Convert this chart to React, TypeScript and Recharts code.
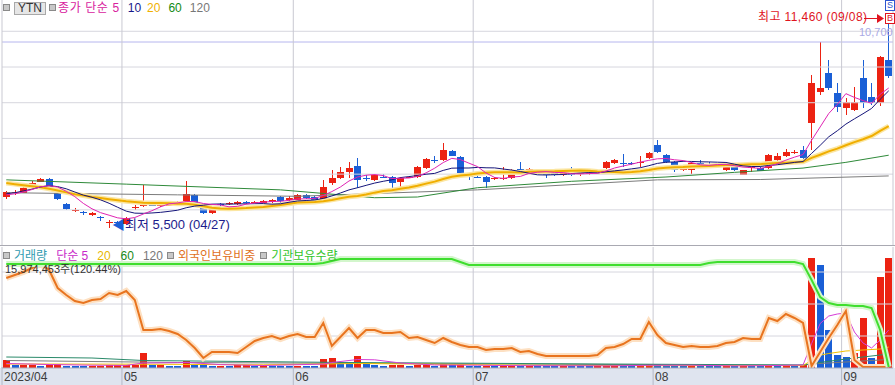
import React from "react";
import { ComposedChart, Bar, Line, XAxis, YAxis, ReferenceLine } from "recharts";

// trading days, 2023/04/11 .. 2023/09/08
const dates = [
  "04/11", "04/12", "04/13", "04/14", "04/17", "04/18", "04/19", "04/20", "04/21", "04/24", "04/25", "04/26", "04/27", "04/28",
  "05/02", "05/03", "05/04", "05/08", "05/09", "05/10", "05/11", "05/12", "05/15", "05/16", "05/17", "05/18", "05/19", "05/22", "05/23", "05/24", "05/25", "05/26", "05/30", "05/31",
  "06/01", "06/02", "06/05", "06/07", "06/08", "06/09", "06/12", "06/13", "06/14", "06/15", "06/16", "06/19", "06/20", "06/21", "06/22", "06/23", "06/26", "06/27", "06/28", "06/29", "06/30",
  "07/03", "07/04", "07/05", "07/06", "07/07", "07/10", "07/11", "07/12", "07/13", "07/14", "07/17", "07/18", "07/19", "07/20", "07/21", "07/24", "07/25", "07/26", "07/27", "07/28", "07/31",
  "08/01", "08/02", "08/03", "08/04", "08/07", "08/08", "08/09", "08/10", "08/11", "08/14", "08/16", "08/17", "08/18", "08/21", "08/22", "08/23", "08/24", "08/25", "08/28", "08/29", "08/30", "08/31",
  "09/01", "09/04", "09/05", "09/06", "09/07", "09/08",
];

const opens = [
  6350, 6480, 6480, 6640, 6790, 6870, 6480, 6170, 5990, 5930, 5870, 5790, 5650, 5660,
  5600, 6060, 6110, 6150, 6110, 6120, 6140, 6250, 6420, 6050, 5900, 6160, 6170, 6170, 6220, 6200, 6200, 6230, 6360, 6270,
  6280, 6420, 6360, 6280, 6750, 6890, 7060, 7230, 6900, 6840, 6930, 6920, 6780, 6910, 6920, 7170, 7410, 7400, 7650, 7480, 6940,
  6930, 6920, 6880, 6880, 6890, 7150, 7030, 7070, 7060, 7060, 6980, 7090, 7020, 7020, 7050, 7170, 7310, 7320, 7300, 7330, 7450,
  7820, 7540, 7340, 7120, 7120, 7320, 7270, 7240, 7120, 7290, 6980, 7190, 7170, 7170, 7400, 7510, 7610, 7680, 8430, 9300, 9830, 9270,
  8850, 8800, 9690, 9160, 8990, 10200,
];
const highs = [
  6540, 6560, 6650, 6800, 6880, 6900, 6500, 6180, 6060, 5980, 5940, 5840, 5720, 5680,
  5790, 6140, 6700, 6180, 6200, 6220, 6240, 6800, 6440, 6080, 6080, 6200, 6220, 6240, 6250, 6260, 6280, 6300, 6380, 6380,
  6440, 6450, 6380, 6840, 7120, 7200, 7340, 7450, 6980, 7000, 7000, 6950, 6920, 6960, 7220, 7440, 7520, 7870, 7680, 7500, 7020,
  6990, 6950, 6930, 7200, 7150, 7340, 7160, 7120, 7090, 7080, 7080, 7200, 7080, 7060, 7100, 7360, 7420, 7560, 7350, 7500, 7620,
  7960, 7560, 7360, 7250, 7330, 7400, 7350, 7300, 7280, 7310, 7130, 7260, 7190, 7560, 7600, 7700, 7690, 7780, 9780, 10700, 10200, 9550,
  9130, 9440, 10200, 9550, 10300, 11460,
];
const lows = [
  6300, 6430, 6460, 6620, 6780, 6620, 6280, 6000, 5950, 5850, 5830, 5700, 5500, 5600,
  5570, 6000, 6080, 6100, 6090, 6100, 6120, 6200, 6100, 5880, 5880, 6100, 6130, 6150, 6160, 6180, 6180, 6200, 6200, 6250,
  6260, 6300, 6260, 6250, 6700, 6860, 6890, 6610, 6800, 6820, 6880, 6560, 6600, 6880, 6900, 7150, 7300, 7380, 7500, 6980, 6830,
  6880, 6610, 6830, 6850, 6870, 7020, 7000, 7000, 6900, 6940, 6940, 6960, 6960, 6980, 7030, 7150, 7290, 7200, 7250, 7200, 7430,
  7600, 7300, 7050, 7100, 7000, 7200, 7200, 7180, 7100, 7100, 6970, 7060, 7080, 7150, 7380, 7490, 7560, 7430, 7680, 9220, 9360, 8740,
  8660, 8760, 8850, 8950, 8900, 9700,
];
const closes = [
  6500, 6490, 6620, 6760, 6860, 6650, 6300, 6030, 6010, 5910, 5900, 5760, 5670, 5640,
  5770, 6090, 6250, 6130, 6180, 6190, 6220, 6450, 6130, 5900, 6060, 6150, 6180, 6210, 6200, 6230, 6250, 6280, 6240, 6330,
  6420, 6330, 6280, 6640, 6890, 7060, 7170, 6840, 6890, 6980, 6920, 6750, 6890, 6920, 7200, 7420, 7400, 7680, 7510, 7030, 6920,
  6920, 6780, 6890, 6890, 7120, 7060, 7140, 7060, 6980, 6980, 7060, 6980, 7030, 7030, 7060, 7340, 7400, 7310, 7290, 7340, 7590,
  7620, 7340, 7120, 7230, 7310, 7310, 7260, 7230, 7260, 7120, 7120, 7200, 7090, 7540, 7510, 7620, 7620, 7450, 9550, 9410, 9410, 8880,
  9020, 9020, 8990, 8990, 10280, 9760,
];

// price moving averages (종가 단순)
const ma5 = [
  6420, 6450, 6500, 6570, 6646, 6676, 6638, 6520, 6370, 6180, 6030, 5922, 5850, 5776, 5748, 5786, 5884, 5976, 6084, 6168,
  6194, 6234, 6234, 6178, 6152, 6138, 6084, 6100, 6160, 6194, 6214, 6234, 6240, 6266, 6304, 6310, 6320, 6402, 6512, 6640,
  6808, 6920, 6970, 6988, 6960, 6876, 6886, 6892, 6936, 7036, 7166, 7324, 7442, 7408, 7308, 7212, 7032, 6908, 6880, 6920,
  6936, 7020, 7054, 7072, 7048, 7044, 7012, 7006, 7016, 7022, 7088, 7172, 7228, 7280, 7338, 7386, 7430, 7438, 7402, 7380,
  7324, 7262, 7246, 7268, 7274, 7236, 7198, 7182, 7160, 7212, 7292, 7392, 7476, 7548, 7950, 8322, 8698, 8954, 9254, 9148,
  9060, 8982, 9236, 9412,
];
const ma10 = [
  6450, 6480, 6530, 6580, 6640, 6680, 6650, 6590, 6500, 6413, 6353, 6280, 6185, 6073, 5964, 5908, 5903, 5913, 5930, 5958,
  5990, 6059, 6105, 6131, 6160, 6166, 6159, 6167, 6169, 6173, 6176, 6159, 6170, 6213, 6249, 6262, 6277, 6321, 6389, 6472,
  6559, 6620, 6686, 6750, 6800, 6842, 6903, 6931, 6962, 6998, 7021, 7105, 7167, 7172, 7172, 7189, 7178, 7175, 7144, 7114,
  7074, 7026, 6981, 6976, 6984, 6990, 7016, 7030, 7044, 7035, 7066, 7092, 7117, 7148, 7180, 7237, 7301, 7333, 7341, 7359,
  7355, 7346, 7342, 7335, 7327, 7280, 7230, 7214, 7214, 7243, 7264, 7295, 7329, 7354, 7581, 7807, 8045, 8215, 8401, 8549,
  8691, 8840, 9095, 9333,
];
const ma20 = [
  6750, 6720, 6690, 6660, 6630, 6590, 6540, 6490, 6440, 6400, 6360, 6330, 6300, 6270, 6240, 6220, 6200, 6190, 6190, 6186,
  6172, 6170, 6145, 6102, 6062, 6037, 6031, 6040, 6050, 6066, 6083, 6109, 6138, 6172, 6205, 6214, 6218, 6244, 6279, 6323,
  6368, 6390, 6428, 6482, 6525, 6552, 6590, 6626, 6676, 6735, 6790, 6863, 6927, 6961, 6986, 7016, 7041, 7053, 7053, 7056,
  7048, 7066, 7074, 7074, 7078, 7090, 7097, 7103, 7094, 7075, 7070, 7059, 7049, 7062, 7082, 7114, 7159, 7182, 7193, 7197,
  7211, 7219, 7230, 7242, 7254, 7259, 7266, 7274, 7278, 7301, 7310, 7321, 7336, 7345, 7454, 7544, 7638, 7715, 7808, 7896,
  7978, 8068, 8212, 8344,
];
// read at a few days only: [day index, value]
const ma60Pts = [[0, 6840], [14, 6720], [32, 6560], [43, 6340], [48, 6360], [55, 6620], [66, 6800], [77, 6920], [85, 7050], [93, 7170], [98, 7330], [103, 7530]];
const ma120Pts = [[0, 6480], [20, 6420], [34, 6380], [55, 6560], [76, 6840], [88, 6850], [103, 6950]];

// volume, thousand shares
const volumes = [
  1600, 600, 640, 660, 480, 560, 760, 500, 460, 420, 480, 500, 520, 540,
  600, 620, 3000, 560, 600, 500, 460, 1400, 700, 560, 460, 500, 480, 520, 540, 500, 520, 480, 460, 440,
  480, 440, 420, 1800, 2000, 1200, 1100, 2400, 800, 700, 500, 560, 600, 480, 640, 700, 500, 800, 520, 600, 480,
  440, 500, 420, 460, 500, 440, 460, 400, 380, 360, 400, 380, 360, 340, 360, 500, 520, 480, 400, 460, 800,
  760, 500, 480, 420, 460, 440, 400, 380, 420, 400, 420, 400, 380, 700, 640, 680, 600, 640, 22000, 20600, 7600, 2600,
  2200, 3000, 10000, 2000, 18200, 22000,
];
const volMa5Pts = [[0, 900], [5, 700], [10, 560], [14, 520], [16, 1000], [20, 1050], [21, 1120], [25, 680], [30, 500], [37, 780], [38, 1100], [41, 1700], [43, 1640], [46, 1000], [50, 600], [55, 560], [60, 460], [70, 420], [75, 540], [80, 560], [85, 420], [89, 480], [93, 600], [94, 4900], [95, 8900], [96, 10400], [97, 10800], [98, 11000], [99, 7200], [100, 5000], [101, 4000], [102, 5600], [103, 7600]];
const volMa20Pts = [[0, 800], [16, 760], [30, 640], [41, 900], [50, 760], [60, 560], [75, 460], [93, 480], [94, 1560], [95, 2560], [96, 2900], [98, 3400], [100, 3600], [102, 3800], [103, 4200]];
const volMa60Pts = [[0, 2200], [10, 2000], [16, 1500], [40, 1100], [70, 800], [93, 600], [94, 880], [98, 1800], [103, 2800]];
const volMa120Pts = [[0, 1500], [20, 1100], [45, 900], [70, 700], [93, 560], [94, 800], [103, 1700]];

// 외국인보유비중 (%)
const foreignRatio = [
  0.90, 0.93, 0.96, 1.00, 1.04, 0.98, 0.80, 0.73, 0.67, 0.65, 0.68, 0.69, 0.75, 0.73, 0.77, 0.68, 0.38, 0.38, 0.39, 0.37,
  0.34, 0.28, 0.20, 0.10, 0.16, 0.16, 0.16, 0.15, 0.21, 0.27, 0.30, 0.32, 0.29, 0.32, 0.34, 0.31, 0.31, 0.45, 0.22, 0.31,
  0.40, 0.30, 0.38, 0.38, 0.35, 0.35, 0.36, 0.30, 0.31, 0.28, 0.25, 0.30, 0.26, 0.23, 0.21, 0.21, 0.18, 0.19, 0.19, 0.20,
  0.16, 0.17, 0.14, 0.12, 0.12, 0.12, 0.12, 0.12, 0.12, 0.13, 0.20, 0.21, 0.24, 0.29, 0.29, 0.46, 0.33, 0.25, 0.23, 0.21,
  0.22, 0.21, 0.21, 0.22, 0.25, 0.26, 0.30, 0.29, 0.29, 0.50, 0.47, 0.54, 0.50, 0.45, 0.02, 0.16, 0.30, 0.43, 0.57, 0.08,
  0.01, 0.01, 0.01, 0.01,
];
// 기관보유수량 (100k shares)
const instHold = [
  104, 104, 104, 104, 104, 104, 104, 104, 104, 104, 104, 104, 104, 104, 104, 104, 104, 104, 104, 104,
  104, 104, 104, 104, 104, 104, 104, 104, 104, 104, 104, 104, 104, 104, 104, 104, 104, 105, 107, 109,
  109, 109, 109, 109, 109, 109, 109, 109, 109, 109, 109, 109, 109, 106, 103, 103, 103, 103, 103, 103,
  103, 103, 103, 103, 103, 103, 103, 103, 103, 103, 103, 103, 103, 103, 103, 103, 103, 103, 103, 103,
  103, 103, 105, 106, 106, 106, 106, 106, 106, 106, 106, 106, 106, 104, 88, 71, 65, 63, 63, 62,
  62, 60, 38, 1,
];

const priceGrid = [6000, 7000, 8000, 9000, 10000, 11000];
const volGrid = [6400, 12800, 19200];
const monthStarts = [0, 14, 34, 55, 76, 98];
const monthLabels = ["2023/04", "05", "06", "07", "08", "09"];

const RED = "#ec2212";
const BLUE = "#1a5fd6";
const GRID = "#d6d6de";
const FONT = '"Liberation Sans", "Noto Sans CJK KR", sans-serif';

const rows: any[] = dates.map((d, i) => ({
  i,
  d,
  open: opens[i],
  high: highs[i],
  low: lows[i],
  close: closes[i],
  ma5: ma5[i],
  ma10: ma10[i],
  ma20: ma20[i],
  ma60: null,
  ma120: null,
  vol: volumes[i],
  volUp: i === 0 || volumes[i] >= volumes[i - 1],
  vma5: null,
  vma20: null,
  vma60: null,
  vma120: null,
  ratio: foreignRatio[i],
  inst: instHold[i],
}));
const put = (pts: number[][], key: string) => pts.forEach(([i, v]) => (rows[i][key] = v));
put(ma60Pts, "ma60");
put(ma120Pts, "ma120");
put(volMa5Pts, "vma5");
put(volMa20Pts, "vma20");
put(volMa60Pts, "vma60");
put(volMa120Pts, "vma120");

const xTicks = monthStarts.map((k) => k - 0.5);
const edges = [...xTicks, 103.5];

function Candle(props: any) {
  const { x, y, width, height, payload } = props;
  if (x == null || !payload) return null;
  const { open, high, low, close } = payload;
  const cx = Math.floor(x + width / 2) + 0.5;
  const span = high - low;
  const toY = (p: number) => (span > 0 ? y + ((high - p) / span) * height : y);
  const c = close >= open ? RED : BLUE;
  const t = Math.round(toY(Math.max(open, close)));
  const b = Math.round(toY(Math.min(open, close)));
  return (
    <g shapeRendering="crispEdges">
      <line x1={cx} x2={cx} y1={y} y2={y + height} stroke={c} />
      <rect x={cx - 3.5} y={t} width={7} height={Math.max(1, b - t)} fill={c} />
    </g>
  );
}

function VolBar(props: any) {
  const { x, y, width, height, payload } = props;
  if (x == null || !payload) return null;
  const cx = Math.floor(x + width / 2) + 0.5;
  const top = Math.round(y);
  const h = Math.max(1, Math.round(y + height) - top);
  return <rect x={cx - 3.5} y={top} width={7} height={h} fill={payload.volUp ? RED : BLUE} shapeRendering="crispEdges" />;
}

function MonthTick(props: any) {
  const { x, y, payload } = props;
  const idx = xTicks.indexOf(payload.value);
  return (
    <g>
      <line x1={x} x2={x} y1={y - 1} y2={y + 17} stroke="#b4b8c6" />
      <text x={x + 2} y={y + 13} fontSize={12} fill="#3c3c3c" fontFamily={FONT}>
        {monthLabels[idx]}
      </text>
    </g>
  );
}

const Sq = () => (
  <span style={{ display: "inline-block", width: 5, height: 5, border: "1px solid #8a8a8a", background: "#c8c8c8", marginRight: 4, verticalAlign: 1 }} />
);

export default function App() {
  const abs = (left: number, top: number, extra: any = {}) => ({
    position: "absolute" as const,
    left,
    top,
    whiteSpace: "nowrap" as const,
    fontFamily: FONT,
    fontSize: 12,
    lineHeight: "14px",
    ...extra,
  });
  const marker = (top: number, color: string) =>
    abs(885, top, { width: 8, height: 9, border: `1px solid ${color}`, color, fontSize: 9, lineHeight: "9px", textAlign: "center", background: "#fff" });
  return (
    <div style={{ position: "relative", width: 895, height: 385, background: "#fff", overflow: "hidden" }}>
      <style>{"body{margin:0}"}</style>

      {/* price panel */}
      <div style={{ position: "absolute", left: 0, top: 0 }}>
        <ComposedChart width={895} height={245} data={rows} margin={{ top: 0, right: 2, left: 2, bottom: 0 }}>
          <XAxis type="number" dataKey="i" domain={[-0.5, 103.5]} ticks={xTicks} hide allowDataOverflow />
          <YAxis domain={[5016, 11876]} hide allowDataOverflow />
          {priceGrid.map((v) => (
            <ReferenceLine key={v} y={v} stroke={GRID} />
          ))}
          <ReferenceLine y={10700} stroke="#b6b6ee" />
          {edges.map((v) => (
            <ReferenceLine key={v} x={v} stroke="#c9c9d2" />
          ))}
          <Line dataKey="ma120" stroke="#7c7c7c" strokeWidth={1} dot={false} connectNulls isAnimationActive={false} />
          <Line dataKey="ma60" stroke="#2f8a3a" strokeWidth={1} dot={false} connectNulls isAnimationActive={false} />
          <Line dataKey="ma20" stroke="#fbe6a2" strokeWidth={5} dot={false} isAnimationActive={false} />
          <Line dataKey="ma20" stroke="#f0ae00" strokeWidth={2} dot={false} isAnimationActive={false} />
          <Line dataKey="ma10" stroke="#15157a" strokeWidth={1} dot={false} isAnimationActive={false} />
          <Line dataKey="ma5" stroke="#e024b4" strokeWidth={1} dot={false} isAnimationActive={false} />
          <Bar dataKey={(d: any) => [d.low, d.high]} shape={Candle} barSize={7} isAnimationActive={false} />
        </ComposedChart>
      </div>

      <div style={{ position: "absolute", left: 0, top: 245, width: 895, height: 2, background: "#fff", borderTop: "1px solid #a9a9b2" }} />
      <div style={{ position: "absolute", left: 0, top: 368, width: 895, height: 17, background: "#dfe4ef" }} />

      {/* volume / holdings panel */}
      <div style={{ position: "absolute", left: 0, top: 247 }}>
        <ComposedChart width={895} height={138} data={rows} margin={{ top: 0, right: 2, left: 2, bottom: 0 }}>
          <XAxis
            type="number"
            dataKey="i"
            domain={[-0.5, 103.5]}
            ticks={xTicks}
            interval={0}
            height={17}
            tickSize={0}
            tickMargin={0}
            tick={<MonthTick />}
            axisLine={{ stroke: "#a9aebf" }}
            allowDataOverflow
          />
          <YAxis yAxisId="vol" domain={[0, 24200]} hide allowDataOverflow />
          <YAxis yAxisId="ratio" domain={[0, 1.21]} hide allowDataOverflow />
          <YAxis yAxisId="inst" domain={[0, 121]} hide allowDataOverflow />
          {volGrid.map((v) => (
            <ReferenceLine key={v} yAxisId="vol" y={v} stroke={GRID} />
          ))}
          {edges.map((v) => (
            <ReferenceLine key={v} yAxisId="vol" x={v} stroke="#c9c9d2" />
          ))}
          <Bar yAxisId="vol" dataKey="vol" shape={VolBar} barSize={7} isAnimationActive={false} />
          <Line yAxisId="vol" dataKey="vma120" stroke="#7c7c7c" dot={false} connectNulls isAnimationActive={false} />
          <Line yAxisId="vol" dataKey="vma60" stroke="#2a8a6a" dot={false} connectNulls isAnimationActive={false} />
          <Line yAxisId="vol" dataKey="vma20" stroke="#f2c200" dot={false} connectNulls isAnimationActive={false} />
          <Line yAxisId="vol" dataKey="vma5" stroke="#d63cd6" dot={false} connectNulls isAnimationActive={false} />
          <Line yAxisId="ratio" dataKey="ratio" stroke="#fde0c2" strokeWidth={6} dot={false} isAnimationActive={false} />
          <Line yAxisId="ratio" dataKey="ratio" stroke="#e8741f" strokeWidth={2} dot={false} isAnimationActive={false} />
          <Line yAxisId="inst" dataKey="inst" stroke="#d3f6cc" strokeWidth={6} dot={false} isAnimationActive={false} />
          <Line yAxisId="inst" dataKey="inst" stroke="#3fde2e" strokeWidth={2} dot={false} isAnimationActive={false} />
        </ComposedChart>
      </div>

      {/* price panel legend */}
      <div style={abs(3, 1)}>
        <Sq />
        <span style={{ display: "inline-block", padding: "0 3px", background: "#e6e6e6", border: "1px solid #a8a8a8", color: "#333", lineHeight: "11px" }}>YTN</span>
        <span style={{ marginLeft: 3 }}>
          <Sq />
        </span>
        <span style={{ color: "#d8229e", letterSpacing: 0.6, marginLeft: -2 }}>종가 단순 5</span>
        <span style={{ color: "#18188a", marginLeft: 8 }}>10</span>
        <span style={{ color: "#f0b000", marginLeft: 6 }}>20</span>
        <span style={{ color: "#128a12", marginLeft: 8 }}>60</span>
        <span style={{ color: "#777", marginLeft: 8 }}>120</span>
      </div>

      {/* high / low markers */}
      <div style={abs(758, 10, { color: "#e0141e", fontSize: 12, letterSpacing: 0.4 })}>최고 11,460 (09/08)</div>
      <svg style={{ position: "absolute", left: 864, top: 12 }} width={21} height={12}>
        <line x1={0} y1={6.5} x2={14} y2={6.5} stroke="#e0141e" />
        <path d="M13 2 L20 6.5 L13 11 Z" fill="#e0141e" />
      </svg>
      <div style={abs(859, 25, { color: "#a9a9e4", fontSize: 11 })}>10,700</div>
      <div style={marker(0, "#2b55d0")}>S</div>
      <div style={marker(13, "#e0141e")}>B</div>
      <div style={abs(112, 218, { color: "#1c1c8c", fontSize: 13 })}>
        <span style={{ color: "#1a5fd6" }}>◀</span>최저 5,500 (04/27)
      </div>

      {/* lower panel legend */}
      <div style={abs(3, 249, { fontSize: 12 })}>
        <Sq />
        <span style={{ color: "#2f9bb0" }}>거래량</span>
        <span style={{ color: "#c829c8", marginLeft: 9 }}>단순 5</span>
        <span style={{ color: "#e8b800", marginLeft: 9 }}>20</span>
        <span style={{ color: "#1a8a1a", marginLeft: 10 }}>60</span>
        <span style={{ color: "#777", marginLeft: 9 }}>120</span>
        <span style={{ marginLeft: 4 }}>
          <Sq />
        </span>
        <span style={{ color: "#e0701c" }}>외국인보유비중</span>
        <span style={{ marginLeft: 5 }}>
          <Sq />
        </span>
        <span style={{ color: "#33c42a" }}>기관보유수량</span>
      </div>
      <div style={abs(5, 262, { fontSize: 11, color: "#333" })}>15,974,453주(120.44%)</div>
    </div>
  );
}
